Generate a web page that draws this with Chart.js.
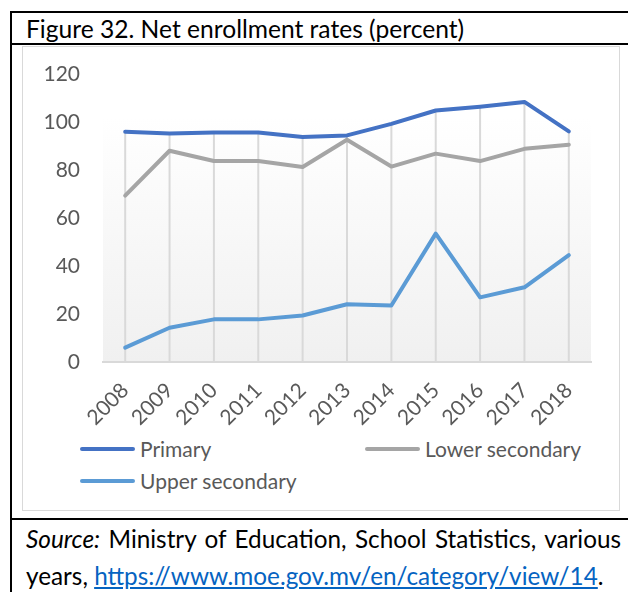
<!DOCTYPE html>
<html>
<head>
<meta charset="utf-8">
<script src="https://cdn.jsdelivr.net/npm/chart.js@4"></script>
<style>
  body { margin: 0; background: #fff; font-family: Lato, "Noto Sans", sans-serif; }
  .abs { position: absolute; }
  #chart_box { left: 22px; top: 46px; width: 598px; height: 465px; border: 1.5px solid #d9d9d9; box-sizing: border-box; }
  #chart_wrap { left: 23px; top: 47px; width: 596px; height: 385px; }
  .legend_item { position: absolute; font-size: 21px; color: #595959; line-height: 24px; }
  .legend_item .swatch { position: absolute; left: 0; top: 10px; width: 55px; height: 4px; border-radius: 2px; }
  .legend_item span { position: absolute; left: 60px; white-space: nowrap; }
  #title { left: 26px; top: 14px; font-size: 24.6px; color: #000; white-space: nowrap; }
  .src { left: 26px; font-size: 24.3px; color: #000; white-space: nowrap; }
  a { color: #0563c1; text-decoration: underline; }
</style>
</head>
<body>
<div class="abs" style="left:10px;top:11px;width:640px;height:2px;background:#000"></div>
<div class="abs" style="left:10px;top:43px;width:640px;height:2px;background:#000"></div>
<div class="abs" style="left:10px;top:518px;width:640px;height:2px;background:#000"></div>
<div class="abs" style="left:10px;top:11px;width:2px;height:600px;background:#000"></div>
<div class="abs" id="title">Figure 32. Net enrollment rates (percent)</div>
<div class="abs" id="chart_box"></div>
<div class="abs" id="chart_wrap"><canvas id="enroll_chart"></canvas></div>
<div id="legend"></div>
<div class="abs src" style="top:524px;width:595px;text-align:justify;text-align-last:justify;"><i>Source:</i> Ministry of Education, School Statistics, various</div>
<div class="abs src" style="top:561px;">years, <a href="#">https://www.moe.gov.mv/en/category/view/14</a>.</div>

<script>
const YEARS = [ '2008', '2009', '2010', '2011', '2012', '2013', '2014', '2015', '2016', '2017', '2018' ];
const PRIMARY = [ 96.1, 95.4, 95.8, 95.8, 93.9, 94.6, 99.4, 105.0, 106.6, 108.6, 96.3 ];
const LOWER_SECONDARY = [ 69.5, 88.2, 83.9, 83.9, 81.4, 92.8, 81.6, 87.0, 83.9, 89.0, 90.7 ];
const UPPER_SECONDARY = [ 6.0, 14.3, 17.8, 17.8, 19.4, 24.1, 23.6, 53.6, 27.0, 31.2, 44.6 ];
const SERIES_NAMES = [ 'Primary', 'Lower secondary', 'Upper secondary' ];
const SERIES_COLORS = [ '#4472c4', '#a5a5a5', '#5b9bd5' ];
const Y_TICKS = [ 0, 20, 40, 60, 80, 100, 120 ];

const TICK_FONT = { family: 'Lato', size: 21 };

// plot area fill, white to light grey like the excel gradient
const plot_background = {
  id: 'plot_background',
  beforeDraw( chart ) {
    const { ctx, chartArea } = chart;
    const grad = ctx.createLinearGradient( 0, chartArea.top, 0, chartArea.bottom );
    grad.addColorStop( 0, '#ffffff' );
    grad.addColorStop( 0.15, '#ffffff' );
    grad.addColorStop( 1, '#f0f0f0' );
    ctx.save();
    ctx.fillStyle = grad;
    ctx.fillRect( chartArea.left, chartArea.top, chartArea.right - chartArea.left, chartArea.bottom - chartArea.top );
    ctx.restore();
  }
};

// drop lines from the highest point of each year down to the axis
const drop_lines = {
  id: 'drop_lines',
  beforeDatasetsDraw( chart ) {
    const { ctx, scales } = chart;
    ctx.save();
    ctx.strokeStyle = '#d9d9d9';
    ctx.lineWidth = 2;
    YEARS.forEach( ( yr, i ) => {
      const top = Math.max( ...chart.data.datasets.map( d => d.data[ i ] ) );
      const x = scales.x.getPixelForValue( i );
      ctx.beginPath();
      ctx.moveTo( x, scales.y.getPixelForValue( top ) );
      ctx.lineTo( x, scales.y.getPixelForValue( 0 ) );
      ctx.stroke();
    } );
    ctx.restore();
  }
};

function make_legend() {
  const spots = [ [ 80, 437 ], [ 365, 437 ], [ 80, 469 ] ];
  let html = '';
  SERIES_NAMES.forEach( ( name, i ) => {
    html += '<div class="legend_item" style="left:' + spots[ i ][ 0 ] + 'px;top:' + spots[ i ][ 1 ] + 'px">' +
      '<div class="swatch" style="background:' + SERIES_COLORS[ i ] + '"></div><span>' + name + '</span></div>';
  } );
  document.getElementById( 'legend' ).innerHTML = html;
}

function create_chart() {
  const ctx = document.getElementById( 'enroll_chart' ).getContext( '2d' );
  const all_data = [ PRIMARY, LOWER_SECONDARY, UPPER_SECONDARY ];
  new Chart( ctx, {
    type: 'line',
    data: {
      labels: YEARS,
      datasets: SERIES_NAMES.map( ( name, i ) => {
        return {
          label: name,
          data: all_data[ i ],
          borderColor: SERIES_COLORS[ i ],
          backgroundColor: SERIES_COLORS[ i ],
          borderWidth: 4,
          pointRadius: 0,
          tension: 0,
          borderCapStyle: 'round',
          borderJoinStyle: 'round'
        };
      } )
    },
    options: {
      responsive: true,
      maintainAspectRatio: false,
      animation: false,
      layout: { padding: { top: 18, right: 28, left: 0, bottom: 0 } },
      plugins: { legend: { display: false }, tooltip: { enabled: false } },
      scales: {
        x: {
          offset: true,
          grid: { display: false },
          border: { display: true, color: '#d9d9d9', width: 2 },
          ticks: { color: '#595959', font: TICK_FONT, maxRotation: 45, minRotation: 45, padding: 8 },
          afterFit( scale ) { scale.height = 70; }
        },
        y: {
          min: 0,
          max: 120,
          afterBuildTicks( scale ) { scale.ticks = Y_TICKS.map( v => ( { value: v } ) ); },
          grid: { display: false },
          border: { display: false },
          ticks: { color: '#595959', font: TICK_FONT, padding: 15 },
          afterFit( scale ) { scale.width = 80; }
        }
      }
    },
    plugins: [ plot_background, drop_lines ]
  } );
}

document.addEventListener( 'DOMContentLoaded', function () {
  make_legend();
  create_chart();
} );
</script>
</body>
</html>
